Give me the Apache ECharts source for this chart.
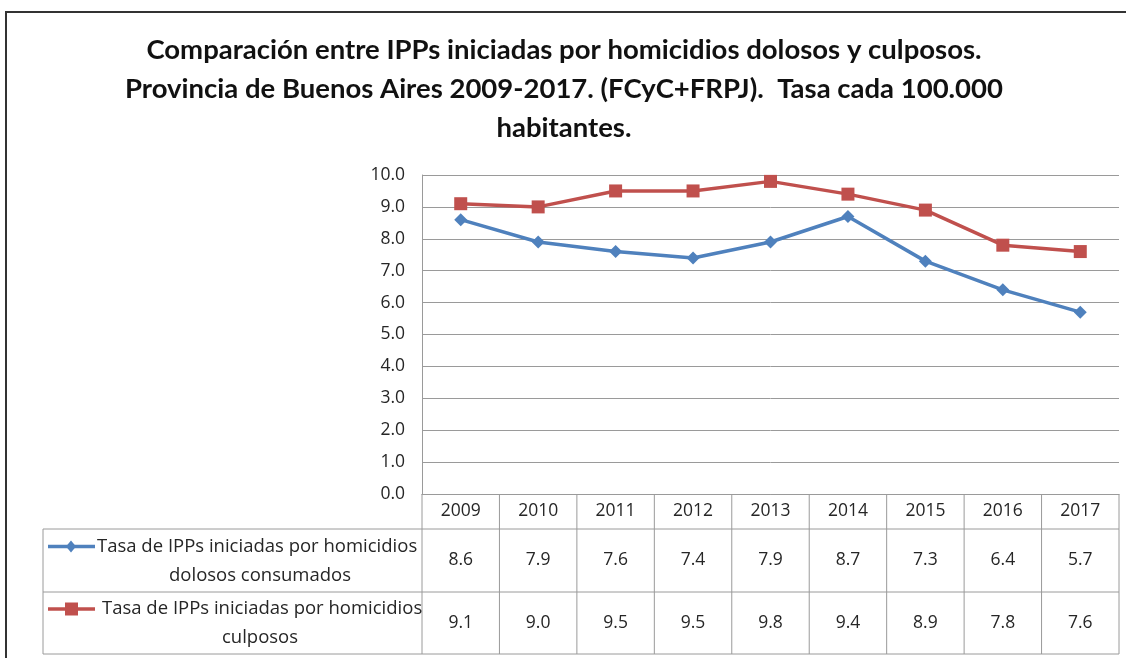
<!DOCTYPE html>
<html lang="es">
<head>
  <meta charset="UTF-8">
  <title>IPPs homicidios</title>
  <style>
    html, body { margin: 0; padding: 0; background: #fff; }
    #main { width: 1126px; height: 658px; }
  </style>
</head>
<body>
  <div id="main"></div>
  <script src="https://cdn.jsdelivr.net/npm/echarts@6/dist/echarts.min.js"></script>
  <script>
    const years = ['2009', '2010', '2011', '2012', '2013', '2014', '2015', '2016', '2017']
    const dolosos = [8.6, 7.9, 7.6, 7.4, 7.9, 8.7, 7.3, 6.4, 5.7]
    const culposos = [9.1, 9.0, 9.5, 9.5, 9.8, 9.4, 8.9, 7.8, 7.6]
    const seriesNames = [
      'Tasa de IPPs iniciadas por homicidios\ndolosos consumados',
      'Tasa de IPPs iniciadas por homicidios\nculposos'
    ]
    const titleText = 'Comparación entre IPPs iniciadas por homicidios dolosos y culposos.\n' +
      'Provincia de Buenos Aires 2009-2017. (FCyC+FRPJ).  Tasa cada 100.000\nhabitantes.'

    const blue = '#4F81BD'
    const red = '#C0504D'
    const titleFont = 'Lato, sans-serif'
    const font = '"Open Sans", sans-serif'
    const txt = '#262626'
    const gridCol = '#9a9a9a'

    const myChart = echarts.init(document.getElementById('main'))

    const option = {
      animation: false,
      backgroundColor: '#fff',
      title: {
        text: titleText,
        left: 559,
        textAlign: 'center',
        top: 26,
        textStyle: { fontFamily: titleFont, fontSize: 27.5, fontWeight: 'bold', color: '#111', lineHeight: 39 }
      },
      grid: { left: 422, right: 7, top: 175, bottom: 164 },
      xAxis: {
        type: 'category',
        data: years,
        boundaryGap: true,
        axisLine: { lineStyle: { color: gridCol } },
        axisTick: { show: false },
        axisLabel: { margin: 8, color: txt, fontFamily: font, fontSize: 17.5 }
      },
      yAxis: {
        type: 'value',
        min: 0, max: 10, interval: 1,
        axisLine: { show: true, lineStyle: { color: gridCol } },
        axisTick: { show: false },
        splitLine: { lineStyle: { color: gridCol } },
        axisLabel: { margin: 17, color: txt, fontFamily: font, fontSize: 17.5, formatter: v => v.toFixed(1) }
      },
      series: [
        {
          name: seriesNames[0], type: 'line', data: dolosos,
          symbol: 'diamond', symbolSize: 13,
          lineStyle: { color: blue, width: 3.5 }, itemStyle: { color: blue }
        },
        {
          name: seriesNames[1], type: 'line', data: culposos,
          symbol: 'rect', symbolSize: 13,
          lineStyle: { color: red, width: 3.5 }, itemStyle: { color: red }
        }
      ]
    }

    myChart.setOption(option)

    // data table under the plot, positioned from the axis
    const tableLeft = 43
    const rows = [494, 529, 592, 654]
    const half = (myChart.convertToPixel({ xAxisIndex: 0 }, 1) - myChart.convertToPixel({ xAxisIndex: 0 }, 0)) / 2
    const xs = years.map((y, i) => myChart.convertToPixel({ xAxisIndex: 0 }, i))
    const xRight = xs[xs.length - 1] + half
    const xPlot = xs[0] - half
    const lineStyle = { stroke: gridCol, lineWidth: 1 }
    const tfont = '17.5px ' + font
    const lfont = '18.5px ' + font
    const g = []

    // outer frame
    g.push({ type: 'rect', shape: { x: 6, y: 12, width: 1140, height: 680 }, style: { fill: null, stroke: '#333', lineWidth: 2 }, silent: true })

    // horizontal lines
    g.push({ type: 'line', shape: { x1: tableLeft, y1: rows[1], x2: xRight, y2: rows[1] }, style: lineStyle })
    g.push({ type: 'line', shape: { x1: tableLeft, y1: rows[2], x2: xRight, y2: rows[2] }, style: lineStyle })
    g.push({ type: 'line', shape: { x1: tableLeft, y1: rows[3], x2: xRight, y2: rows[3] }, style: lineStyle })
    // vertical lines
    g.push({ type: 'line', shape: { x1: tableLeft, y1: rows[1], x2: tableLeft, y2: rows[3] }, style: lineStyle })
    g.push({ type: 'line', shape: { x1: xPlot, y1: rows[0], x2: xPlot, y2: rows[3] }, style: lineStyle })
    xs.forEach(x => {
      g.push({ type: 'line', shape: { x1: x + half, y1: rows[0], x2: x + half, y2: rows[3] }, style: lineStyle })
    })

    const tableData = [dolosos, culposos]
    const colors = [blue, red]
    tableData.forEach((vals, r) => {
      const cy = (rows[r + 1] + rows[r + 2]) / 2
      vals.forEach((v, i) => {
        g.push({ type: 'text', x: xs[i], y: cy, style: { text: v.toFixed(1), fill: txt, font: tfont, align: 'center', verticalAlign: 'middle' } })
      })
      // legend key
      const ky = cy - 14
      g.push({ type: 'line', shape: { x1: 48, y1: ky, x2: 95, y2: ky }, style: { stroke: colors[r], lineWidth: 3.5 } })
      if (r === 0) {
        g.push({ type: 'polygon', shape: { points: [[71, ky - 6], [76, ky], [71, ky + 6], [66, ky]] }, style: { fill: colors[r] } })
      } else {
        g.push({ type: 'rect', shape: { x: 65, y: ky - 6.5, width: 13, height: 13 }, style: { fill: colors[r] } })
      }
      const lines = seriesNames[r].split('\n')
      g.push({ type: 'text', x: r === 0 ? 97 : 102, y: ky, style: { text: lines[0], fill: txt, font: lfont, align: 'left', verticalAlign: 'middle' } })
      g.push({ type: 'text', x: 260, y: ky + 29, style: { text: lines[1], fill: txt, font: lfont, align: 'center', verticalAlign: 'middle' } })
    })

    myChart.setOption({ graphic: g })
  </script>
</body>
</html>
